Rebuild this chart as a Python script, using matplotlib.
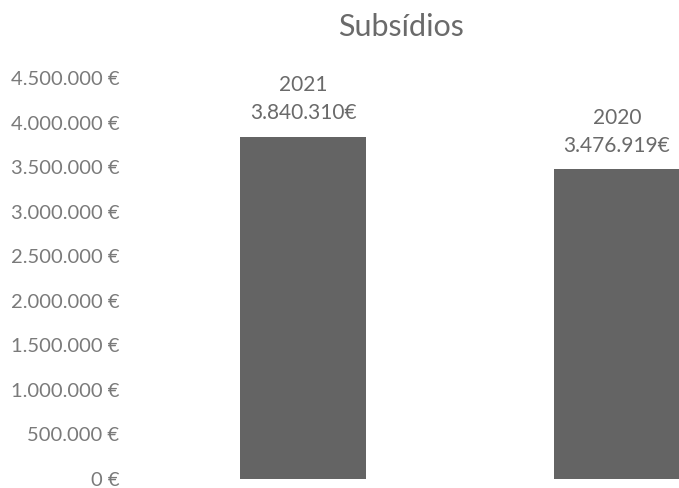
import matplotlib.pyplot as plt
import matplotlib.ticker as mticker

years = ['2021', '2020']
subsidios = [3840310, 3476919]
yticks = [0, 500000, 1000000, 1500000, 2000000, 2500000, 3000000, 3500000, 4000000, 4500000]

plt.rcParams['font.family'] = ['Lato', 'DejaVu Sans']


def euro(v, pos=None):
    return '{:,.0f} €'.format(v).replace(',', '.')


fig = plt.figure(figsize=(6.79, 4.88), dpi=100)
ax = fig.add_axes([132 / 679, 9 / 488, 1 - 132 / 679, (479 - 78) / 488])

x = list(range(len(years)))
ax.bar(x, subsidios, width=0.40, color='#646464')
for i, (yr, v) in enumerate(zip(years, subsidios)):
    # value line and year line stacked above each bar
    ax.annotate(euro(v).replace(' ', ''), (i, v), xytext=(0, 17), textcoords='offset points',
                ha='center', va='center', fontsize=15, color='#6a6a6a')
    ax.annotate(yr, (i, v), xytext=(0, 37), textcoords='offset points',
                ha='center', va='center', fontsize=15, color='#6a6a6a')

ax.set_xlim(-(303 - 132) / 314, (679 - 303) / 314)
ax.set_ylim(0, 4500000)
ax.set_yticks(yticks)
ax.yaxis.set_major_formatter(mticker.FuncFormatter(euro))
ax.tick_params(axis='y', length=0, labelsize=14.5, labelcolor='#7a7a7a', pad=9)
ax.set_xticks([])
for s in ax.spines.values():
    s.set_visible(False)

fig.text(401 / 679, 1 - 27 / 488, 'Subsídios', ha='center', va='center', fontsize=22, color='#6a6a6a')

fig.savefig('out.png', dpi=100)
